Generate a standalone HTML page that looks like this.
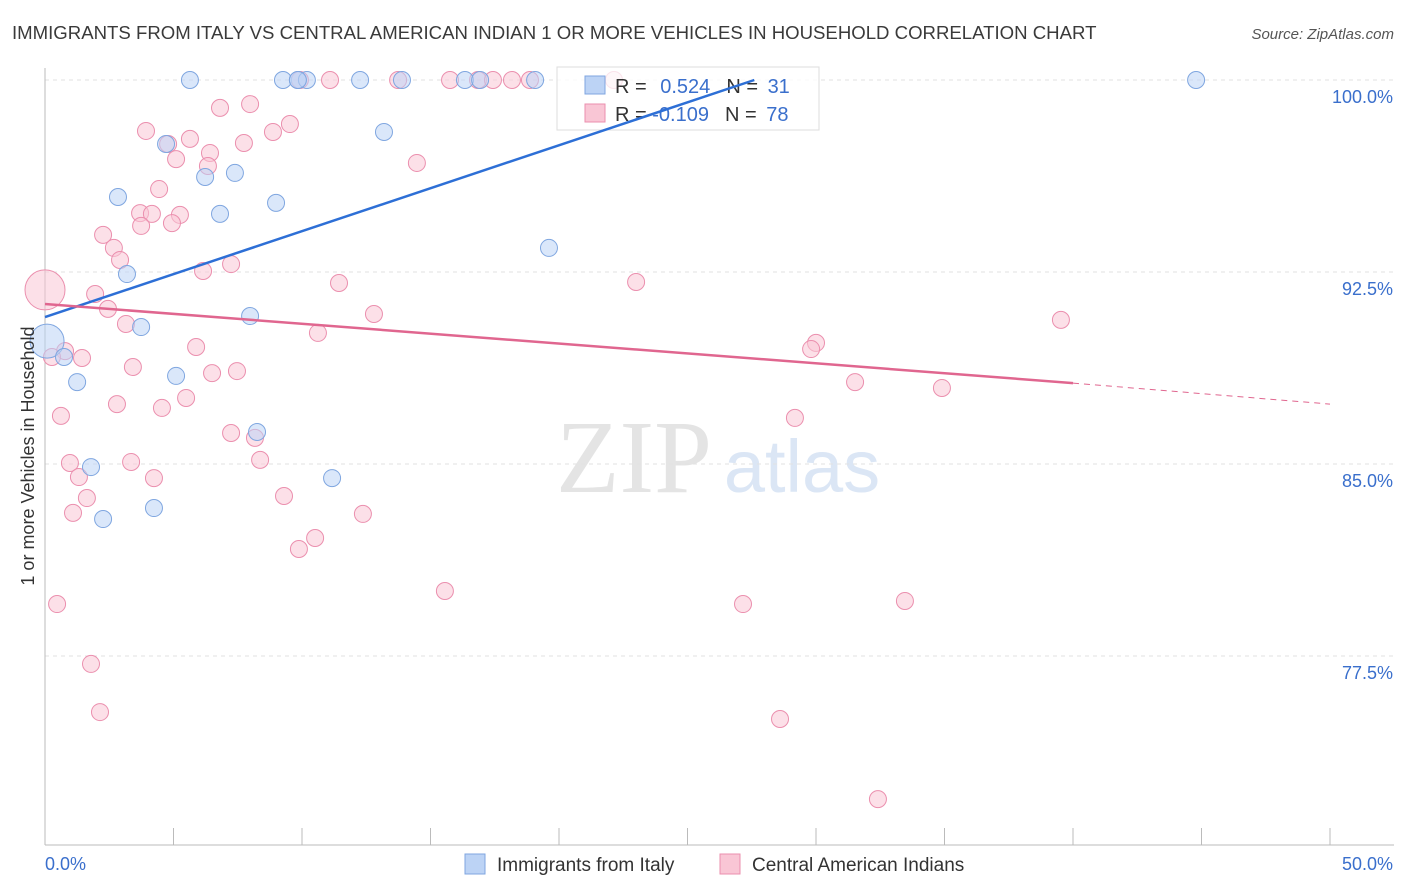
<!DOCTYPE html>
<html><head><meta charset="utf-8"><style>
body{margin:0;background:#fff;font-family:"Liberation Sans",sans-serif}
svg{display:block}
</style></head><body>
<svg id="c" width="1406" height="892" xmlns="http://www.w3.org/2000/svg">
<text x="12" y="39" font-size="18.6" fill="#3a3a3a">IMMIGRANTS FROM ITALY VS CENTRAL AMERICAN INDIAN 1 OR MORE VEHICLES IN HOUSEHOLD CORRELATION CHART</text>
<text x="1394" y="39" font-size="15" fill="#555" text-anchor="end" font-style="italic">Source: ZipAtlas.com</text>
<text x="634" y="492" font-size="104" fill="#e4e4e4" font-family="Liberation Serif" text-anchor="middle">ZIP</text>
<text x="802" y="492" font-size="74" fill="#dbe6f5" text-anchor="middle">atlas</text>
<g id="grid"></g><g id="axes"></g><g id="pts"></g>
<g>
<rect x="557" y="67" width="262" height="63" fill="#fff" fill-opacity="0.75" stroke="#ddd"/>
<rect x="585" y="76" width="20" height="18" fill="#bcd3f5" stroke="#7fa6e0"/>
<rect x="585" y="104" width="20" height="18" fill="#f9c6d5" stroke="#eb8fae"/>
<text x="615" y="93" font-size="20" fill="#333">R = <tspan fill="#3a6fcc" dx="8">0.524</tspan><tspan dx="16" fill="#333">N = </tspan><tspan fill="#3a6fcc" dx="4">31</tspan></text>
<text x="615" y="121" font-size="20" fill="#333">R = <tspan fill="#3a6fcc">-0.109</tspan><tspan dx="16" fill="#333">N = </tspan><tspan fill="#3a6fcc" dx="4">78</tspan></text>
</g>
<g id="trend"></g>
<text transform="translate(34,456) rotate(-90)" font-size="18" fill="#333" text-anchor="middle">1 or more Vehicles in Household</text>
<g>
<rect x="465" y="854" width="20" height="20" fill="#bcd3f5" stroke="#7fa6e0"/>
<text x="497" y="871" font-size="19" fill="#333">Immigrants from Italy</text>
<rect x="720" y="854" width="20" height="20" fill="#f9c6d5" stroke="#eb8fae"/>
<text x="752" y="871" font-size="19" fill="#333">Central American Indians</text>
</g>
</svg>
<script>
const yTicks=[100,92.5,85,77.5];
const yTickLabels=["100.0%","92.5%","85.0%","77.5%"];
const xTicks=[0,5,10,15,20,25,30,35,40,45,50];
const xEndLabels=["0.0%","50.0%"];
const italyX=[5.64,9.26,9.84,10.19,12.26,13.89,16.34,16.93,19.07,44.79,13.19,4.71,7.39,6.23,2.84,8.99,6.81,19.61,3.19,7.98,3.74,0.08,0.74,1.25,5.1,8.25,1.79,11.17,4.24,2.26,9.84];
const italyY=[100,100,100,100,100,100,100,100,100,100,97.97,97.5,96.37,96.21,95.43,95.2,94.77,93.44,92.42,90.78,90.35,89.8,89.18,88.2,88.44,86.25,84.88,84.45,83.28,82.85,100];
const camX=[0,9.92,11.09,13.74,15.76,16.85,17.43,18.17,18.87,22.14,7.98,6.81,3.93,9.53,8.87,5.64,7.74,4.79,6.42,5.1,6.34,14.47,4.44,3.7,4.16,5.25,3.74,4.94,2.26,2.68,2.92,7.24,6.15,11.44,23.0,1.95,2.45,12.8,3.15,10.62,39.53,5.88,30.0,29.81,0.78,0.27,1.44,3.42,6.5,7.47,31.52,34.9,5.49,2.8,4.55,0.62,29.18,7.24,8.17,8.37,0.97,3.35,1.32,4.24,1.63,9.3,1.09,12.37,10.51,9.88,15.56,0.47,27.16,33.46,1.79,2.14,28.6,32.41];
const camY=[91.8,100,100,100,100,100,100,100,100,100,99.06,98.91,98.01,98.28,97.97,97.7,97.54,97.5,97.15,96.91,96.64,96.76,95.74,94.8,94.77,94.73,94.3,94.41,93.95,93.44,92.97,92.81,92.54,92.07,92.11,91.64,91.06,90.86,90.47,90.12,90.63,89.57,89.73,89.49,89.41,89.18,89.14,88.79,88.55,88.63,88.2,87.97,87.58,87.34,87.19,86.88,86.8,86.21,86.02,85.16,85.04,85.08,84.49,84.45,83.67,83.75,83.09,83.05,82.11,81.68,80.04,79.53,79.53,79.65,77.19,75.31,75.04,71.91];
const italyTrend=[0,90.74,27.6,100];
const camTrend=[0,91.25,40,88.16,50,87.34];
const X=v=>45+v/50*1285, Y=v=>80+(100-v)/7.5*192;
const NS="http://www.w3.org/2000/svg";
function mk(p,t,a){const e=document.createElementNS(NS,t);for(const k in a)e.setAttribute(k,a[k]);p.appendChild(e);return e;}
const g=document.getElementById('grid'),ax=document.getElementById('axes'),pts=document.getElementById('pts'),tr=document.getElementById('trend');
yTicks.forEach((t,i)=>{
 const l=mk(g,'line',{x1:45,x2:1394,y1:Y(t),y2:Y(t),stroke:'#e2e2e2','stroke-dasharray':'4,4'});
 
 
 const tx=mk(ax,'text',{x:1393,y:Y(t)+23,'font-size':18,fill:'#3a6fcc','text-anchor':'end'});
 tx.textContent=yTickLabels[i];
 
 
});
const a1=mk(ax,'line',{x1:45,x2:45,y1:68,y2:845,stroke:'#bbb'});


const a2=mk(ax,'line',{x1:45,x2:1394,y1:845,y2:845,stroke:'#bbb'});


xTicks.forEach(t=>{
 const l=mk(ax,'line',{x1:X(t),x2:X(t),y1:828,y2:845,stroke:'#bbb'});
 
 
});
[[0,'start',45],[1,'end',1393]].forEach(([i,an,x])=>{
 const tx=mk(ax,'text',{x:x,y:870,'font-size':18,fill:'#3a6fcc','text-anchor':an});
 tx.textContent=xEndLabels[i];
 
 
});
function dots(xs,ys,fill,stroke,name,bigIdx){
 xs.forEach((x,i)=>{
  const c=mk(pts,'circle',{cx:X(x),cy:Y(ys[i]),r:i===bigIdx?(name==='italy-point'?17:20):8.5,fill:fill,'fill-opacity':0.55,stroke:stroke,'stroke-width':1});
  
  
 });
}
dots(camX,camY,'#f9c6d5','#eb8fae','central-american-point',0);
dots(italyX,italyY,'#bcd3f5','#7fa6e0','italy-point',21);
const bl=mk(tr,'line',{x1:X(italyTrend[0]),y1:Y(italyTrend[1]),x2:X(italyTrend[2]),y2:Y(italyTrend[3]),stroke:'#2d6fd6','stroke-width':2.5});


const pl=mk(tr,'line',{x1:X(camTrend[0]),y1:Y(camTrend[1]),x2:X(camTrend[2]),y2:Y(camTrend[3]),stroke:'#e0668f','stroke-width':2.5});


const pd=mk(tr,'line',{x1:X(camTrend[2]),y1:Y(camTrend[3]),x2:X(camTrend[4]),y2:Y(camTrend[5]),stroke:'#e0668f','stroke-width':1,'stroke-dasharray':'6,5'});


</script>
</body></html>
